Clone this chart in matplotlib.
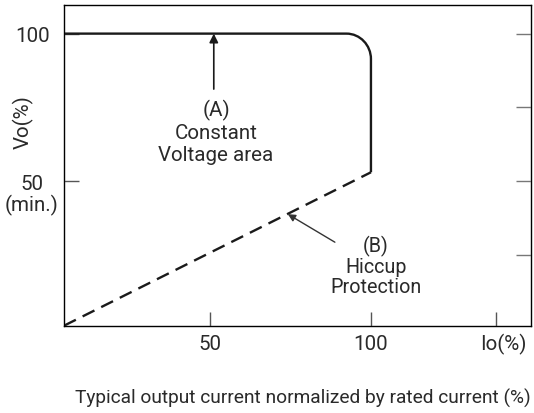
import matplotlib
matplotlib.use("Agg")
import matplotlib.pyplot as plt
from matplotlib.path import Path
from matplotlib.patches import PathPatch

plt.rcParams["font.family"] = ["Roboto", "DejaVu Sans"]

# ---- data (percent of rated values) ----
x_range = (4.7, 149.6)
y_range = (1.0, 109.7)

# constant voltage curve (A): flat at 100 %, rounded knee, drop at 100 % Io
cv_x = [4.7, 92.4, 96.6, 100.0, 100.0, 100.0]
cv_y = [100.0, 100.0, 100.0, 96.1, 91.4, 53.0]

# hiccup protection line (B)
hic_x = [4.7, 100.0]
hic_y = [1.0, 53.0]

x_ticks = [50, 100, 138.8]
x_ticklabels = ["50", "100", ""]
y_ticks = [50, 100]
y_ticklabels = ["50", "100"]
y_right_ticks = [25, 50, 75, 100]

ink = "#1a1a1a"
frame = "#3a3a3a"
txt = "#2a2a2a"
fs = 14.8

fig = plt.figure(figsize=(5.34, 4.14), dpi=100)
ax = fig.add_axes([0.1199, 0.2109, 0.8739, 0.7746])
ax.set_xlim(*x_range)
ax.set_ylim(*y_range)

codes = [Path.MOVETO, Path.LINETO, Path.CURVE4, Path.CURVE4, Path.CURVE4,
         Path.LINETO]
ax.add_patch(PathPatch(Path(list(zip(cv_x, cv_y)), codes), fill=False,
                       lw=1.7, edgecolor=ink, capstyle="butt", zorder=3))
ax.plot(hic_x, hic_y, color=ink, lw=1.7, dashes=(5.6, 3.2), zorder=3)

for s in ax.spines.values():
    s.set_color(frame)
    s.set_linewidth(1.0)

ax.set_xticks(x_ticks)
ax.set_xticklabels(x_ticklabels)
ax.set_yticks(y_ticks)
ax.set_yticklabels(y_ticklabels, ha="center")
ax.tick_params(axis="x", direction="in", length=10, width=1, color="#555555",
               labelsize=fs, labelcolor=txt, pad=6)
ax.tick_params(axis="y", direction="in", length=11, width=1, color="#555555",
               labelsize=fs, labelcolor=txt, pad=23)

# right side ticks
axr = ax.twinx()
axr.set_ylim(*y_range)
axr.set_yticks(y_right_ticks)
axr.tick_params(axis="y", direction="in", length=11, width=1, color="#777777",
                labelright=False)

ax.text(-0.0686, 42.2, "(min.)", transform=ax.get_yaxis_transform(),
        ha="center", va="center", fontsize=fs, color=txt)
ax.text(-0.0879, 70.3, "Vo(%)", transform=ax.get_yaxis_transform(),
        ha="center", va="center", rotation=90, fontsize=fs, color=txt)
ax.text(141, -0.054, "Io(%)", transform=ax.get_xaxis_transform(),
        ha="center", va="center", fontsize=fs, color=txt)

# annotations
ax.annotate("", xy=(51.2, 100), xytext=(51.2, 81.2),
            arrowprops=dict(arrowstyle="-|>", lw=1.2, color=ink,
                            mutation_scale=13, shrinkA=0, shrinkB=0))
ax.text(51.9, 66.9, "(A)\nConstant\nVoltage area", ha="center", va="center",
        fontsize=fs, color=txt, linespacing=1.2)

ax.annotate("", xy=(74.2, 38.8), xytext=(88.8, 29.3),
            arrowprops=dict(arrowstyle="-|>", lw=1.0, color="#333333",
                            mutation_scale=11, shrinkA=0, shrinkB=0))
ax.text(101.6, 21.5, "(B)\nHiccup\nProtection", ha="center", va="center",
        fontsize=14.2, color=txt, linespacing=1.08)

fig.text(302.5 / 534, 1 - 398 / 414,
         "Typical output current normalized by rated current (%)",
         ha="center", va="center", fontsize=13.8, color=txt)

fig.savefig("out.png", dpi=100)
